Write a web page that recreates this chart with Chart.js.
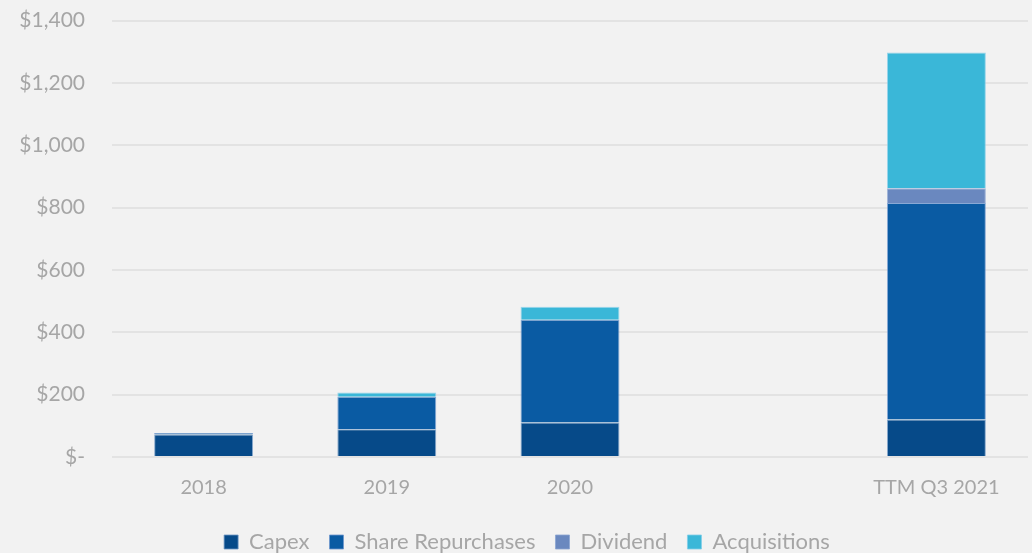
<!DOCTYPE html>
<html>
<head>
<meta charset="utf-8">
<script src="https://cdn.jsdelivr.net/npm/chart.js@4"></script>
<style>
  html, body { margin: 0; padding: 0; background: #F2F2F2; overflow: hidden; }
  #clip { position: relative; width: 1032px; height: 553px; overflow: hidden; }
  #wrap { position: absolute; left: 0; top: -19px; width: 1032px; height: 574px; }
</style>
</head>
<body>
<div id="clip"><div id="wrap"><canvas id="c"></canvas></div></div>
<script>
// Capital allocation by year, stacked ($ millions)
const categories = ['2018', '2019', '2020', '', 'TTM Q3 2021'];
const capex = [72, 89, 111, null, 120];
const repurchases = [5, 104, 329, null, 695];
const dividend = [0, 0, 0, null, 47];
const acquisitions = [0, 14, 42, null, 436];
const yTicks = [0, 200, 400, 600, 800, 1000, 1200, 1400];

const GREY = '#A6A6A6';
const FONT = 'Lato, "Open Sans", sans-serif';

function series(label, data, color, edge) {
    return {
        label: label,
        data: data,
        backgroundColor: color,
        borderColor: edge,
        borderWidth: 1,
        barPercentage: 0.54,
        categoryPercentage: 1.0
    };
}

// legend in the original sits a little right of centre
const legendShift = {
    id: 'legendShift',
    afterLayout: function (chart) {
        if (chart.legend) chart.legend.left += 26;
    }
};

new Chart(document.getElementById('c'), {
    type: 'bar',
    data: {
        labels: categories,
        datasets: [
            series('Capex', capex, '#064A89', 'rgba(110,150,195,0.8)'),
            series('Share Repurchases', repurchases, '#0A5BA3', 'rgba(110,150,205,0.8)'),
            series('Dividend', dividend, '#6A88BF', 'rgba(140,165,210,0.8)'),
            series('Acquisitions', acquisitions, '#3AB7D8', 'rgba(130,205,232,0.8)')
        ]
    },
    options: {
        responsive: true,
        maintainAspectRatio: false,
        animation: false,
        layout: { padding: { left: 0, right: 4, top: -8, bottom: -8 } },
        scales: {
            x: {
                stacked: true,
                grid: { display: false },
                border: { display: false },
                ticks: { color: GREY, font: { family: FONT, size: 20 }, padding: 11 }
            },
            y: {
                stacked: true,
                min: 0,
                max: 1400,
                afterBuildTicks: function (axis) {
                    axis.ticks = yTicks.map(function (v) { return { value: v }; });
                },
                afterFit: function (axis) { axis.width = 112; },
                grid: { color: '#E3E3E3', lineWidth: 2, drawTicks: false },
                border: { display: false },
                ticks: {
                    color: GREY,
                    padding: 27,
                    font: { family: FONT, size: 21 },
                    callback: function (v) {
                        return v === 0 ? '$-' : '$' + v.toLocaleString('en-US');
                    }
                }
            }
        },
        plugins: {
            legend: {
                position: 'bottom',
                labels: {
                    color: GREY,
                    font: { family: FONT, size: 22 },
                    boxWidth: 14,
                    boxHeight: 14,
                    padding: 20,
                    useBorderRadius: false
                }
            },
            tooltip: { enabled: true }
        }
    },
    plugins: [legendShift]
});
</script>
</body>
</html>
